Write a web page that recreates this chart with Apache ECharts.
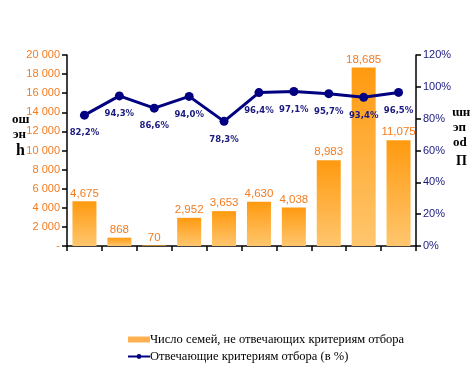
<!DOCTYPE html>
<html><head><meta charset="utf-8">
<script src="https://cdn.jsdelivr.net/npm/echarts@6/dist/echarts.min.js"></script>
<style>html,body{margin:0;padding:0;background:#fff}#c{width:472px;height:381px}</style>
</head><body><div id="c"></div>
<script>
const categories = ['1','2','3','4','5','6','7','8','9','10'];
const families = [4675, 868, 70, 2952, 3653, 4630, 4038, 8983, 18685, 11075];
const percent = [82.2, 94.3, 86.6, 94.0, 78.3, 96.4, 97.1, 95.7, 93.4, 96.5];
const seriesNames = ['Число семей, не отвечающих критериям отбора', 'Отвечающие критериям отбора (в %)'];

const chart = echarts.init(document.getElementById('c'));
const orange = '#F47B20';
const navy = '#000080';
chart.setOption({
  animation: false,
  backgroundColor: '#fff',
  grid: { left: 67, right: 56, top: 55, bottom: 135 },
  legend: {
    orient: 'vertical', left: 122, top: 328, itemGap: 4,
    itemWidth: 22, itemHeight: 6,
    textStyle: { fontFamily: 'Liberation Serif', fontSize: 12.5, color: '#000', padding: [0,0,0,-5] },
    data: [
      { name: seriesNames[0], icon: 'rect', itemStyle: { color: '#FFB050' } },
      { name: seriesNames[1] }
    ]
  },
  xAxis: {
    type: 'category', data: categories,
    axisLine: { lineStyle: { color: '#000', width: 1.5 } },
    axisTick: { show: true, length: 5, lineStyle: { color: '#000', width: 1.5 } },
    axisLabel: { show: false }
  },
  yAxis: [
    {
      type: 'value', min: 0, max: 20000, interval: 2000,
      axisLine: { show: true, lineStyle: { color: '#000', width: 1.5 } },
      axisTick: { show: true, length: 5, lineStyle: { color: '#000', width: 1.5 } },
      splitLine: { show: false },
      axisLabel: {
        color: orange, fontFamily: 'Liberation Sans', fontSize: 11, margin: 7,
        formatter: v => v === 0 ? '-' : String(v).replace(/\B(?=(\d{3})+(?!\d))/g, ' ')
      }
    },
    {
      type: 'value', min: 0, max: 120, interval: 20, position: 'right',
      axisLine: { show: true, lineStyle: { color: '#000', width: 1.5 } },
      axisTick: { show: true, length: 5, lineStyle: { color: '#000', width: 1.5 } },
      splitLine: { show: false },
      axisLabel: { color: '#1a1a80', fontFamily: 'Liberation Sans', fontSize: 11, margin: 7, formatter: '{value}%' }
    }
  ],
  series: [
    {
      name: seriesNames[0], type: 'bar', yAxisIndex: 0, data: families, barWidth: 24,
      itemStyle: {
        color: new echarts.graphic.LinearGradient(0, 0, 0, 1, [
          { offset: 0, color: '#FF9A10' }, { offset: 1, color: '#FFC66E' }
        ])
      },
      label: {
        show: true, position: 'top', distance: 2, color: orange,
        fontFamily: 'Liberation Sans', fontSize: 11.5,
        formatter: p => String(p.value).replace(/\B(?=(\d{3})+(?!\d))/g, ',')
      },
      z: 2
    },
    {
      name: seriesNames[1], type: 'line', yAxisIndex: 1, data: percent,
      symbol: 'circle', symbolSize: 9,
      lineStyle: { color: navy, width: 3 },
      itemStyle: { color: navy },
      label: {
        show: true, position: 'bottom', distance: 9, color: '#1a1a80',
        fontFamily: 'DejaVu Sans', fontSize: 8.5, fontWeight: 'bold',
        formatter: p => p.value.toFixed(1).replace('.', ',') + '%'
      },
      z: 3
    }
  ],
  graphic: [
    { type: 'text', left: 12, top: 113, style: { text: 'ош', font: 'bold 13px Liberation Serif', fill: '#000' } },
    { type: 'text', left: 13, top: 128, style: { text: 'эн', font: 'bold 13px Liberation Serif', fill: '#000' } },
    { type: 'text', left: 16, top: 143, style: { text: 'h', font: 'bold 16px Liberation Serif', fill: '#000' } },
    { type: 'text', left: 452, top: 106, style: { text: 'ɯн', font: 'bold 13px Liberation Serif', fill: '#000' } },
    { type: 'text', left: 453, top: 121, style: { text: 'эп', font: 'bold 13px Liberation Serif', fill: '#000' } },
    { type: 'text', left: 453, top: 136, style: { text: 'od', font: 'bold 13px Liberation Serif', fill: '#000' } },
    { type: 'text', left: 456, top: 154, style: { text: 'П', font: 'bold 14px Liberation Serif', fill: '#000' } }
  ]
});
</script></body></html>
